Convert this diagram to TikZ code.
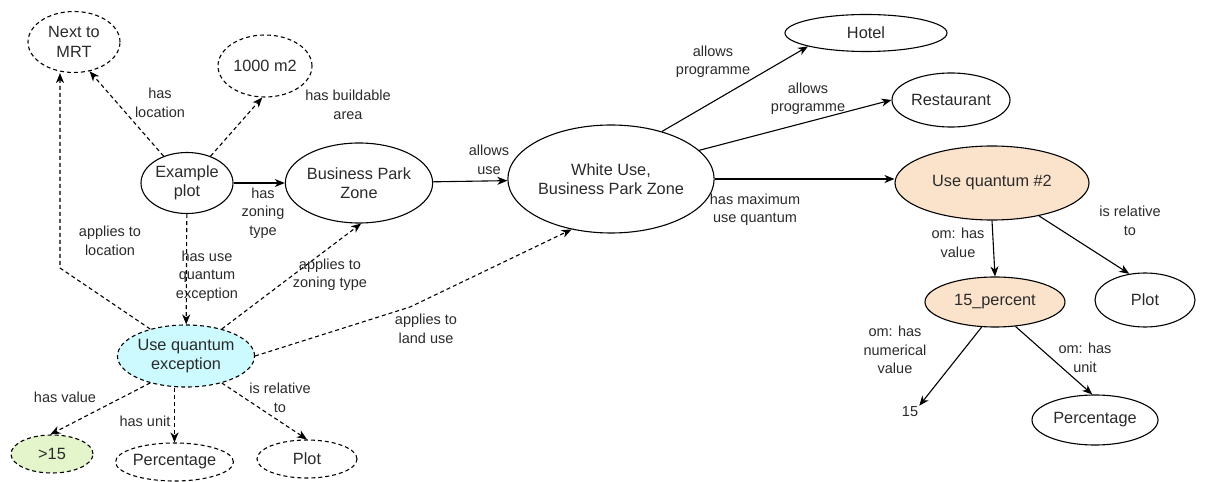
\documentclass[tikz,border=0pt]{standalone}
\usepackage{fontspec}
\setmainfont{Liberation Sans}
\usetikzlibrary{shapes.geometric,arrows.meta}
\definecolor{peach}{HTML}{FBE3CB}
\definecolor{lcyan}{HTML}{CCFAFF}
\definecolor{lgreen}{HTML}{E4F5CC}
\definecolor{txt}{HTML}{2A2A2A}
\tikzset{
  ell/.style={ellipse, draw, line width=1.1bp, inner sep=0pt, align=center, text=txt,
    font=\fontsize{16.3bp}{19.5bp}\selectfont},
  dell/.style={ell, dashed, dash pattern=on 4bp off 3bp},
  lab/.style={align=center, text=txt, font=\fontsize{14.5bp}{18.5bp}\selectfont, inner sep=1bp},
  conn/.style={line width=1.1bp, -{Stealth[length=10bp,width=8bp,inset=3bp]}},
  dconn/.style={conn, dash pattern=on 4bp off 3bp},
}
\begin{document}
\begin{tikzpicture}[x=1bp,y=-1bp]
\useasboundingbox (0,0) rectangle (1215,482);
% nodes
\node[dell, minimum width=92bp, minimum height=61bp] (mrt) at (74,42) {Next to\\MRT};
\node[dell, minimum width=94bp, minimum height=62bp] (area) at (265,66) {1000 m2};
\node[ell, minimum width=92bp, minimum height=61bp] (plot) at (187,183) {Example\\plot};
\node[ell, minimum width=120bp, minimum height=80bp] (bpz) at (359,183) {Business Park\\Zone};
\node[ell, minimum width=148bp, minimum height=108bp] (wu) at (611,179) {White Use,\\Business Park Zone};
\node[ell, minimum width=162bp, minimum height=37bp] (hotel) at (866,33) {Hotel};
\node[ell, minimum width=118bp, minimum height=54bp] (rest) at (951,100) {Restaurant};
\node[ell, fill=peach, minimum width=194bp, minimum height=74bp] (uq) at (992,183) {Use quantum \#2};
\node[ell, fill=peach, minimum width=140bp, minimum height=50bp] (pct) at (995,302) {15\_percent};
\node[ell, minimum width=100bp, minimum height=54bp] (rplot) at (1145,300) {Plot};
\node[text=txt, font=\fontsize{14.5bp}{18bp}\selectfont, inner sep=1bp] (fifteen) at (910,412) {15};
\node[ell, minimum width=126bp, minimum height=50bp] (rperc) at (1095,420) {Percentage};
\node[dell, fill=lcyan, minimum width=112bp, minimum height=62bp] (uqe) at (186,356) {Use quantum\\exception};
\node[dell, fill=lgreen, minimum width=82bp, minimum height=38bp] (gt) at (52,454) {>15};
\node[dell, minimum width=98bp, minimum height=38bp] (lperc) at (174.5,462) {Percentage};
\node[dell, minimum width=100bp, minimum height=38bp] (lplot) at (307,459) {Plot};
\coordinate (bendA) at (60,268);
\coordinate (bendB) at (410,307);
% edges
\draw[dconn] (plot) -- (mrt.-62);
\draw[dconn] (plot) -- (area.-95);
\draw[conn] (plot) -- (bpz);
\draw[dconn] (plot) -- (uqe);
\draw[dconn] (uqe.143) -- (bendA) -- (bendA |- mrt.south);
\draw[dconn] (uqe.37) -- (bpz.-87);
\draw[dconn] (uqe.east) -- (bendB) -- (wu.-128);
\draw[dconn] (uqe.-143) -- (gt.95);
\draw[dconn] (uqe.south -| lperc.north) -- (lperc.north);
\draw[dconn] (uqe.-37) -- (lplot.90);
\draw[conn] (bpz) -- (wu);
\draw[conn] (wu.43) -- (hotel.-167);
\draw[conn] (wu.18) -- (rest.west);
\draw[conn] (wu.east) -- (wu.east -| uq.west);
\draw[conn] (uq.south) -- (pct.north);
\draw[conn] (uq.-35) -- (rplot.121);
\draw[conn] (pct.-118) -- (fifteen.north east);
\draw[conn] (pct.-50) -- (rperc.96);
% labels
\node[lab] (l1) at (160,103) {has\\location};
\node[lab] (l2) at (348,105) {has buildable\\area};
\node[lab] (l3) at (263,213) {has\\zoning\\type};
\node[lab] (l4) at (207,276) {has use\\quantum\\exception};
\node[lab] (l5) at (110,241) {applies to\\location};
\node[lab] (l6) at (330,275) {applies to\\zoning type};
\node[lab] (l7) at (426,329) {applies to\\land use};
\node[lab] (l8) at (65,397) {has value};
\node[lab] (l9) at (145,421) {has unit};
\node[lab] (l10) at (280,398) {is relative\\to};
\node[lab] (l11) at (489,160) {allows\\use};
\node[lab] (l12) at (713,62) {allows\\programme};
\node[lab] (l13) at (808,99) {allows\\programme};
\node[lab] (l14) at (755,210) {has maximum\\use quantum};
\node[lab] (l15) at (958,243) {om: has\\value};
\node[lab] (l16) at (1130,221) {is relative\\to};
\node[lab] (l17) at (895,350) {om: has\\numerical\\value};
\node[lab] (l18) at (1085,358) {om: has\\unit};
\end{tikzpicture}
\end{document}
